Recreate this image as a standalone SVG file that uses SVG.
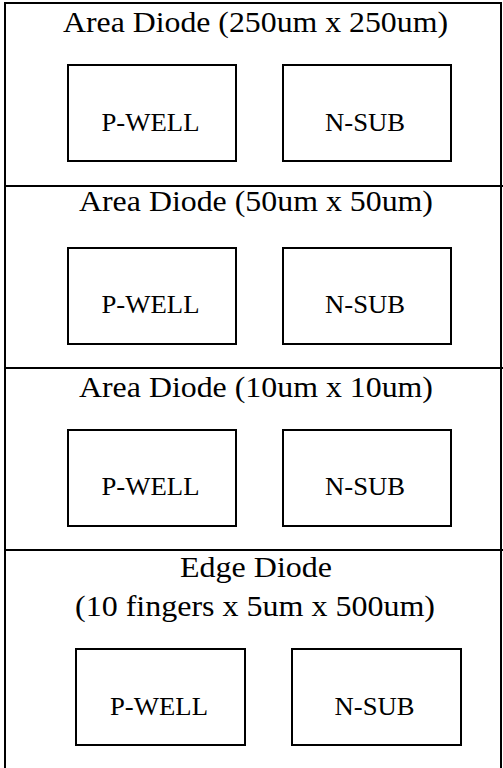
<svg xmlns="http://www.w3.org/2000/svg" width="503" height="768" viewBox="0 0 503 768">
  <style>
    .frame { fill: none; stroke: #000; stroke-width: 2; }
    .cell { fill: #fff; stroke: #000; stroke-width: 2; }
  </style>
  <rect width="503" height="768" fill="#fff"/>

  <!-- outer frame and section dividers -->
  <g id="frame">
    <path class="frame" d="M5 780 V3 H501 V780"/>
    <line class="frame" x1="5" y1="186" x2="503" y2="186"/>
    <line class="frame" x1="5" y1="368" x2="503" y2="368"/>
    <line class="frame" x1="5" y1="550" x2="503" y2="550"/>
  </g>

  <!-- section titles: 29px serif, cell labels: 25px serif -->
  <g font-family="Liberation Serif, Times New Roman, serif" fill="#000" text-anchor="middle">

    <!-- Area Diode 250um -->
    <g id="section-250">
      <text x="255.5" y="32" font-size="29" textLength="385" lengthAdjust="spacingAndGlyphs">Area Diode (250um x 250um)</text>
      <g id="pwell-250">
        <rect class="cell" x="68" y="65" width="168" height="96"/>
        <text x="150.5" y="131" font-size="25" textLength="98" lengthAdjust="spacingAndGlyphs">P-WELL</text>
      </g>
      <g id="nsub-250">
        <rect class="cell" x="283" y="65" width="168" height="96"/>
        <text x="365" y="131" font-size="25" textLength="80" lengthAdjust="spacingAndGlyphs">N-SUB</text>
      </g>
    </g>

    <!-- Area Diode 50um -->
    <g id="section-50">
      <text x="256" y="211" font-size="29" textLength="354" lengthAdjust="spacingAndGlyphs">Area Diode (50um x 50um)</text>
      <g id="pwell-50">
        <rect class="cell" x="68" y="248" width="168" height="96"/>
        <text x="150.5" y="313" font-size="25" textLength="98" lengthAdjust="spacingAndGlyphs">P-WELL</text>
      </g>
      <g id="nsub-50">
        <rect class="cell" x="283" y="248" width="168" height="96"/>
        <text x="365" y="313" font-size="25" textLength="80" lengthAdjust="spacingAndGlyphs">N-SUB</text>
      </g>
    </g>

    <!-- Area Diode 10um -->
    <g id="section-10">
      <text x="256" y="397" font-size="29" textLength="354" lengthAdjust="spacingAndGlyphs">Area Diode (10um x 10um)</text>
      <g id="pwell-10">
        <rect class="cell" x="68" y="430" width="168" height="96"/>
        <text x="150.5" y="495" font-size="25" textLength="98" lengthAdjust="spacingAndGlyphs">P-WELL</text>
      </g>
      <g id="nsub-10">
        <rect class="cell" x="283" y="430" width="168" height="96"/>
        <text x="365" y="495" font-size="25" textLength="80" lengthAdjust="spacingAndGlyphs">N-SUB</text>
      </g>
    </g>

    <!-- Edge Diode -->
    <g id="section-edge">
      <text x="256" y="577" font-size="29" textLength="152" lengthAdjust="spacingAndGlyphs">Edge Diode</text>
      <text x="255" y="616" font-size="29" textLength="360" lengthAdjust="spacingAndGlyphs">(10 fingers x 5um x 500um)</text>
      <g id="pwell-edge">
        <rect class="cell" x="76" y="649" width="169" height="96"/>
        <text x="159" y="715" font-size="25" textLength="98" lengthAdjust="spacingAndGlyphs">P-WELL</text>
      </g>
      <g id="nsub-edge">
        <rect class="cell" x="292" y="649" width="169" height="96"/>
        <text x="374.5" y="715" font-size="25" textLength="80" lengthAdjust="spacingAndGlyphs">N-SUB</text>
      </g>
    </g>
  </g>
</svg>
